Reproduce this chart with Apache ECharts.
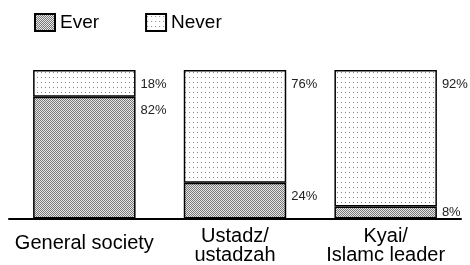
<!DOCTYPE html>
<html>
<head>
<meta charset="utf-8">
<script src="https://cdn.jsdelivr.net/npm/echarts@6/dist/echarts.min.js"></script>
<style>
  html, body { margin: 0; padding: 0; background: #fff; }
  #chart { width: 470px; height: 265px; }
</style>
</head>
<body>
<div id="chart"></div>
<script>
const categories = ['General society', 'Ustadz/\nustadzah', 'Kyai/\nIslamc leader'];
const everValues = [82, 24, 8];
const neverValues = [18, 76, 92];

// fine checker for "Ever", sparse dots for "Never"
const makePattern = (type) => {
    const c = document.createElement('canvas');
    const ctx = c.getContext('2d');
    if (type === 'ever') {
        c.width = 2; c.height = 2;
        ctx.fillStyle = '#e6e6e6';
        ctx.fillRect(0, 0, 2, 2);
        ctx.fillStyle = '#7a7a7a';
        ctx.fillRect(0, 0, 1, 1);
        ctx.fillRect(1, 1, 1, 1);
    } else {
        c.width = 4; c.height = 5;
        ctx.fillStyle = '#fff';
        ctx.fillRect(0, 0, 4, 5);
        ctx.fillStyle = '#888';
        ctx.fillRect(1, 2, 1, 1);
    }
    return { image: c, repeat: 'repeat' };
};

const labelStyle = {
    show: true,
    position: ['100%', 14],
    distance: 0,
    offset: [5, 0],
    align: 'left',
    verticalAlign: 'middle',
    fontFamily: 'Liberation Sans',
    fontSize: 13,
    color: '#222',
    formatter: '{c}%'
};

const barItem = (value) => {
    // thin segments get their label centred on the segment
    if (value < 15) {
        return { value, label: { position: ['100%', 6] } };
    }
    return value;
};

const chart = echarts.init(document.getElementById('chart'));
chart.setOption({
    animation: false,
    textStyle: { fontFamily: 'Liberation Sans' },
    legend: {
        left: 34,
        top: 13,
        padding: 0,
        icon: 'rect',
        itemWidth: 20,
        itemHeight: 17,
        itemGap: 46,
        textStyle: { fontSize: 19, color: '#000' },
        data: ['Ever', 'Never']
    },
    grid: { left: 9, right: 9, top: 70, bottom: 45 },
    xAxis: {
        type: 'category',
        data: categories,
        axisLine: { lineStyle: { color: '#000', width: 2 } },
        axisTick: { show: false },
        axisLabel: {
            color: '#000',
            fontSize: 20,
            lineHeight: 19,
            margin: 8,
            interval: 0,
            formatter: (v) => v.indexOf('\n') < 0 ? '{one|' + v + '}' : v,
            rich: {
                one: { fontSize: 20, lineHeight: 19, padding: [14, 0, 0, 0], color: '#000' }
            }
        }
    },
    yAxis: {
        type: 'value',
        min: 0,
        max: 100,
        show: false
    },
    series: [
        {
            name: 'Ever',
            type: 'bar',
            stack: 'total',
            barWidth: '68%',
            data: everValues.map(barItem),
            itemStyle: { color: makePattern('ever'), borderColor: '#000', borderWidth: 1.5 },
            label: labelStyle
        },
        {
            name: 'Never',
            type: 'bar',
            stack: 'total',
            barWidth: '68%',
            data: neverValues.map(barItem),
            itemStyle: { color: makePattern('never'), borderColor: '#000', borderWidth: 1.5 },
            label: labelStyle
        }
    ]
});
</script>
</body>
</html>
